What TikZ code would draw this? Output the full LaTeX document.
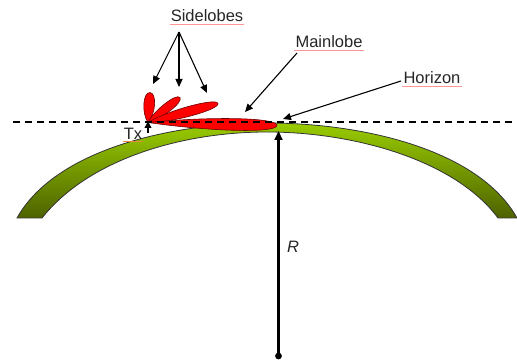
\documentclass[tikz,border=0pt]{standalone}
\usepackage{fontspec}
\setmainfont{Liberation Sans}
\usetikzlibrary{arrows.meta}
\definecolor{earthtop}{RGB}{153,204,0}
\definecolor{earthbot}{RGB}{78,98,0}
\definecolor{lobeline}{RGB}{110,0,0}
\definecolor{squigcol}{RGB}{255,150,150}
\definecolor{txsquig}{RGB}{230,140,60}
\newcommand\drawlobe[4]{%
  \begin{scope}[shift={(148,122.5)},rotate=#1]
    \path[lobe] (0,0) .. controls (#4*#2,1.3*#3) and (#2,1.3*#3) .. (#2,0)
      .. controls (#2,-1.3*#3) and (#4*#2,-1.3*#3) .. (0,0) -- cycle;
  \end{scope}}
\begin{document}
\begin{tikzpicture}[x=1pt,y=-1pt,
  lbl/.style={font=\fontsize{16.5}{18}\selectfont, text=black!85, inner sep=1pt},
  thinarrow/.style={-{Triangle[length=8pt,width=7pt]}, line width=1.1pt},
  lobe/.style={fill=red, draw=lobeline, line width=0.6pt},
  squig/.style={draw=squigcol, line width=0.8pt}]
\useasboundingbox (0,0) rectangle (517,363);

% Earth band
\path[top color=earthtop, bottom color=earthbot, draw=black!80, line width=0.8pt]
  (17,218) .. controls (55,150) and (170,123) .. (267,123)
  .. controls (364,123) and (479,150) .. (517,218) -- (498,218)
  .. controls (455,160) and (354,132) .. (267,132)
  .. controls (180,132) and (88,160) .. (42,218) -- cycle;

% Lobes
\drawlobe{86.2}{30}{5.5}{0.3}
\drawlobe{38}{40.6}{4.5}{0.3}
\drawlobe{15.2}{72.5}{5}{0.3}
\drawlobe{-1.3}{129}{6}{0.5}

% Horizon line
\coordinate (hl) at (13,122.5);
\coordinate (hr) at (517,122.5);
\draw[line width=2pt, dash pattern=on 7pt off 5pt] (hl) -- (hr);

% Labels
\node[lbl] (side) at (207,16) {Sidelobes};
\node[lbl] (main) at (329,42) {Mainlobe};
\node[lbl] (hor) at (432,78) {Horizon};
\node[lbl] (tx) at (133,134) {Tx};
\node[lbl, font=\fontsize{16.5}{18}\selectfont\itshape] (rlab) at (293,247) {R};

\draw[squig] ([yshift=-1pt]side.south west) -- ([yshift=-1pt]side.south east);
\draw[squig] ([yshift=-1pt]main.south west) -- ([yshift=-1pt]main.south east);
\draw[squig] ([yshift=-1pt]hor.south west) -- ([yshift=-1pt]hor.south east);
\draw[draw=txsquig, line width=0.8pt] ([yshift=-1pt]tx.south west) -- ([yshift=-1pt]tx.south east);

% Arrows
\coordinate (sfrom) at (179,32);
\coordinate (s1) at (153,84);
\coordinate (s2) at (179,87);
\coordinate (s3) at (207,93);
\draw[thinarrow] (sfrom) -- (s1);
\draw[thinarrow] (sfrom) -- (s2);
\draw[thinarrow] (sfrom) -- (s3);

\coordinate (mfrom) at (297,53);
\coordinate (mto) at (245,112);
\draw[thinarrow] (mfrom) -- (mto);

\coordinate (hfrom) at (401,81);
\coordinate (hto) at (283,119);
\draw[thinarrow] (hfrom) -- (hto);

\coordinate (txb) at (148,133);
\coordinate (txo) at (148,121);
\draw[line width=1.8pt, -{Triangle[length=7pt,width=6.5pt]}] (txb) -- (txo);

\coordinate (rb) at (278.5,356);
\coordinate (rt) at (278.5,131);
\draw[line width=2.6pt, -{Triangle[length=9pt,width=8pt]}] (rb) -- (rt);
\fill (rb) circle (3.4);
\end{tikzpicture}
\end{document}
